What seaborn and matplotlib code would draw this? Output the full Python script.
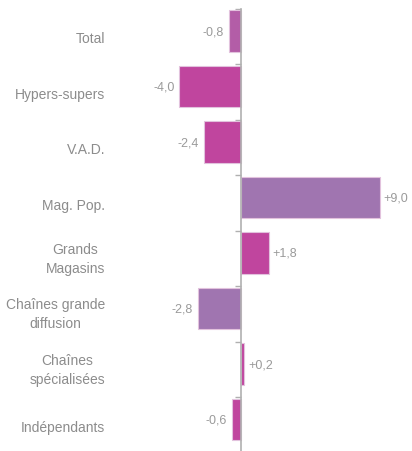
import matplotlib
matplotlib.use("Agg")
import matplotlib.pyplot as plt
import seaborn as sns
import pandas as pd

categories = ["Total", "Hypers-supers", "V.A.D.", "Mag. Pop.", "Grands\nMagasins",
              "Chaînes grande\ndiffusion", "Chaînes\nspécialisées", "Indépendants"]
values = [-0.8, -4.0, -2.4, 9.0, 1.8, -2.8, 0.2, -0.6]
value_labels = ["-0,8", "-4,0", "-2,4", "+9,0", "+1,8", "-2,8", "+0,2", "-0,6"]
colors = ["#B35DA7", "#C0459E", "#C0459E", "#A075B0", "#C0459E", "#A075B0", "#C0459E", "#C0459E"]

sns.set_theme(style="white")
plt.rcParams['font.family'] = ['Liberation Sans Narrow', 'Liberation Sans', 'DejaVu Sans']

df = pd.DataFrame({"cat": categories, "val": values})

W, H = 412, 452
band = 55.5
top_px = 9.5
first_center_px = 32.0
fig = plt.figure(figsize=(W / 100, H / 100), dpi=100)
ax = fig.add_axes([170 / W, 0, (W - 170) / W, (H - top_px) / H])

sns.barplot(data=df, y="cat", x="val", hue="cat", palette=colors, legend=False,
            orient="h", width=0.74, ax=ax, edgecolor="#E2C2DD", linewidth=0.8, saturation=1)

px_per_unit = 15.43
ax.set_xlim(-(241 - 170) / px_per_unit, (W - 241) / px_per_unit)
top_val = -(first_center_px - top_px) / band
ax.set_ylim((H - first_center_px) / band, top_val)

for s in ["top", "right", "bottom"]:
    ax.spines[s].set_visible(False)
ax.spines["left"].set_position(("data", 0))
ax.spines["left"].set_color("#B0B0B0")
ax.spines["left"].set_linewidth(1.2)

ax.set_xticks([])
ax.set_yticks([i + top_val for i in range(len(categories))])
ax.set_yticklabels([])
ax.tick_params(axis="y", left=True, length=4, width=1, color="#B0B0B0", direction="out")
ax.set_xlabel("")
ax.set_ylabel("")

# category labels (centred in each band between ticks)
for i, c in enumerate(categories):
    ypx = top_px + band * (i + 0.5) + (2 if "\n" not in c else 0)
    fig.text(105 / W, 1 - ypx / H, c, ha="right", va="center",
             multialignment="center", fontsize=10, color="#8C8C8C", linespacing=1.45)

# value labels
for i, (v, lab) in enumerate(zip(values, value_labels)):
    off = 0.25 if v > 0 else -0.3
    ax.text(v + off, i, lab, ha="left" if v > 0 else "right", va="center",
            fontsize=9, color="#9A9A9A")

fig.savefig("out.png", dpi=100)
